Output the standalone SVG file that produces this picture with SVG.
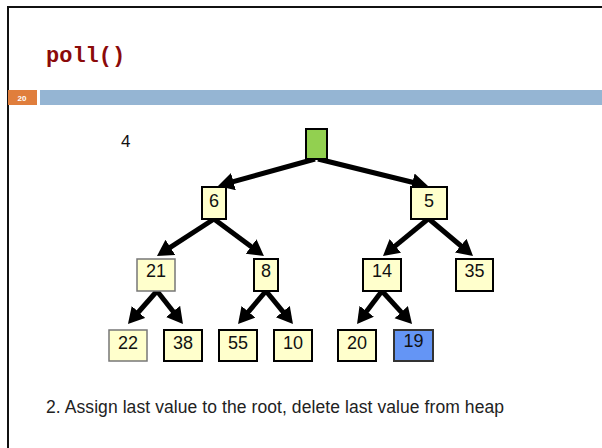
<svg xmlns="http://www.w3.org/2000/svg" width="602" height="448" viewBox="0 0 602 448">
<defs>
<marker id="ah" markerUnits="userSpaceOnUse" markerWidth="20" markerHeight="20" refX="2" refY="9" orient="auto">
<path d="M0,0 L16,9 L0,18 z" fill="#000"/>
</marker>
<style>
.n{fill:#FFFFCC;stroke:#000;stroke-width:2}
.thin{stroke:#777;stroke-width:1.5}
.t{font-family:"Liberation Sans",Arial,sans-serif;font-size:18px;fill:#111;text-anchor:middle}
.e{stroke:#000;stroke-width:5;fill:none;marker-end:url(#ah)}
</style>
</defs>
<rect x="0" y="0" width="602" height="448" fill="#fff"/>
<rect x="8" y="7" width="700" height="500" fill="none" stroke="#111" stroke-width="2"/>
<text x="46" y="62" font-family="'Liberation Mono','Courier New',monospace" font-weight="bold" font-size="22" fill="#8B0A0A">poll()</text>
<rect x="8" y="90" width="29" height="15" fill="#E07E3C"/>
<rect x="40" y="90" width="562" height="15" fill="#95B5D3"/>
<text x="22" y="101" font-family="'Liberation Sans',Arial,sans-serif" font-weight="bold" font-size="8" fill="#fff" text-anchor="middle">20</text>
<text x="121" y="147" font-family="'Liberation Sans',Arial,sans-serif" font-size="17" fill="#111">4</text>
<g id="edges">
<line class="e" x1="315" y1="159" x2="231.5" y2="182.2"/>
<line class="e" x1="318" y1="159" x2="414.4" y2="182.7"/>
<line class="e" x1="214" y1="219" x2="168.7" y2="248.4"/>
<line class="e" x1="214" y1="219" x2="252.7" y2="247.7"/>
<line class="e" x1="428" y1="219" x2="393.8" y2="247.1"/>
<line class="e" x1="429" y1="219" x2="462.3" y2="247"/>
<line class="e" x1="157" y1="291" x2="137.2" y2="313.5"/>
<line class="e" x1="157" y1="291" x2="174.3" y2="313"/>
<line class="e" x1="266" y1="291" x2="247.1" y2="313.3"/>
<line class="e" x1="266" y1="291" x2="284.1" y2="313.2"/>
<line class="e" x1="382" y1="291" x2="365.5" y2="312.8"/>
<line class="e" x1="382" y1="291" x2="402.6" y2="313.6"/>
</g>
<g id="root"><rect x="306" y="129" width="21" height="30" fill="#92D050" stroke="#000" stroke-width="2"/></g>
<g id="n6"><rect class="n" x="202" y="187" width="24" height="32"/><text class="t" x="214" y="207">6</text></g>
<g id="n5"><rect class="n" x="411" y="187" width="36" height="32"/><text class="t" x="429" y="207">5</text></g>
<g id="n21"><rect class="n thin" x="137" y="259" width="38" height="32"/><text class="t" x="156" y="277">21</text></g>
<g id="n8"><rect class="n" x="254" y="259" width="24" height="32"/><text class="t" x="266" y="277">8</text></g>
<g id="n14"><rect class="n" x="363" y="259" width="38" height="32"/><text class="t" x="382" y="277">14</text></g>
<g id="n35"><rect class="n" x="456" y="259" width="37" height="32"/><text class="t" x="474.5" y="277">35</text></g>
<g id="n22"><rect class="n thin" x="109" y="330" width="38" height="31"/><text class="t" x="128" y="349">22</text></g>
<g id="n38"><rect class="n" x="164" y="330" width="38" height="31"/><text class="t" x="183" y="349">38</text></g>
<g id="n55"><rect class="n" x="219" y="330" width="38" height="31"/><text class="t" x="238" y="349">55</text></g>
<g id="n10"><rect class="n" x="274" y="330" width="38" height="31"/><text class="t" x="293" y="349">10</text></g>
<g id="n20"><rect class="n" x="338" y="330" width="38" height="31"/><text class="t" x="357" y="349">20</text></g>
<g id="n19"><rect x="394" y="330" width="39" height="31" fill="#6495F5" stroke="#333" stroke-width="2"/><text class="t" x="413.5" y="347">19</text></g>
<text x="46" y="413" font-family="'Liberation Sans',Arial,sans-serif" font-size="17.5" fill="#222" textLength="458" lengthAdjust="spacing">2. Assign last value to the root, delete last value from heap</text>
</svg>
